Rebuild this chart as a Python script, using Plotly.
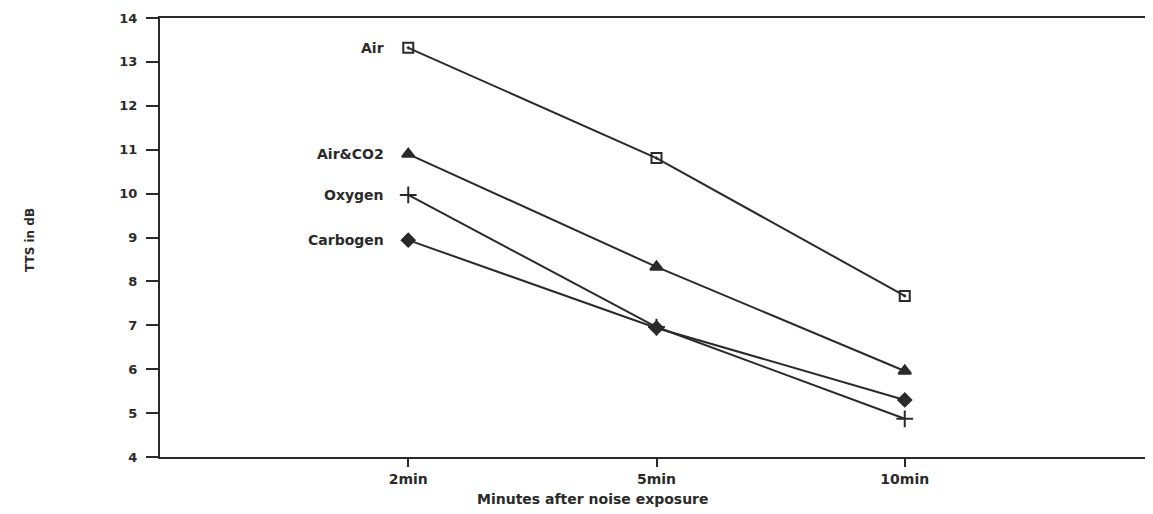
import plotly.graph_objects as go

categories = ["2min", "5min", "10min"]
x_pos = [1, 2, 3]
series_names = ["Air", "Air&CO2", "Oxygen", "Carbogen"]
air = [13.32, 10.81, 7.67]
air_co2 = [10.9, 8.33, 5.96]
oxygen = [9.97, 6.96, 4.87]
carbogen = [8.94, 6.94, 5.3]
y_ticks = [4, 5, 6, 7, 8, 9, 10, 11, 12, 13, 14]

series_values = [air, air_co2, oxygen, carbogen]
symbols = ["square-open-dot", "triangle-up", "cross-thin-open", "diamond"]
sizes = [10, 11, 12, 10]

LINE = "#2a2a2a"
FONT = dict(family="DejaVu Sans", size=14, color="#2a2a2a", weight="bold")

OFF = 8  # page body margin
W, H = 1153 - OFF, 514 - OFF
L, R, T = 160 - OFF, 0, 18 - OFF
B = H - (457 - OFF)
pw = W - L - R
ph = H - T - B

def px_x(x):
    return (x - OFF - L) / pw

def px_y(y):
    return (H - B - (y - OFF)) / ph

fig = go.Figure()
for name, vals, sym, sz in zip(series_names, series_values, symbols, sizes):
    fig.add_trace(go.Scatter(
        x=x_pos, y=vals, mode="lines+markers", name=name,
        line=dict(color=LINE, width=2),
        marker=dict(symbol=sym, size=sz, color=LINE,
                    line=dict(color=LINE, width=2)),
        showlegend=False,
    ))
    fig.add_annotation(x=x_pos[0], y=vals[0], text=name, showarrow=False,
                       xanchor="right", yanchor="middle", xshift=-22,
                       font=FONT)

fig.add_annotation(x=px_x(593), y=px_y(499), xref="paper", yref="paper",
                   text="Minutes after noise exposure", showarrow=False,
                   xanchor="center", yanchor="middle", font=FONT)
fig.add_annotation(x=px_x(30), y=px_y(240), xref="paper", yref="paper",
                   text="TTS in dB", showarrow=False, textangle=-90,
                   xanchor="center", yanchor="middle",
                   font=dict(family="DejaVu Sans", size=12, color="#2a2a2a", weight="bold"))

fig.update_layout(
    width=W, height=H,
    margin=dict(l=L, r=R, t=T, b=B),
    paper_bgcolor="white", plot_bgcolor="white",
    font=FONT,
    yaxis=dict(range=[4, 14], tickvals=y_ticks, ticks="outside", ticklen=12,
               tickwidth=2, tickcolor=LINE, showline=True, linecolor=LINE,
               linewidth=2, showgrid=False, zeroline=False, ticklabelstandoff=6,
               automargin=False, tickfont=dict(size=13)),
    xaxis=dict(range=[0, 4], tickvals=x_pos, ticktext=categories,
               ticks="outside", ticklen=8, tickwidth=2, tickcolor=LINE,
               showline=True, mirror=True, linecolor=LINE, linewidth=2,
               showgrid=False, zeroline=False, automargin=False),
)

fig.write_html("out.html")
